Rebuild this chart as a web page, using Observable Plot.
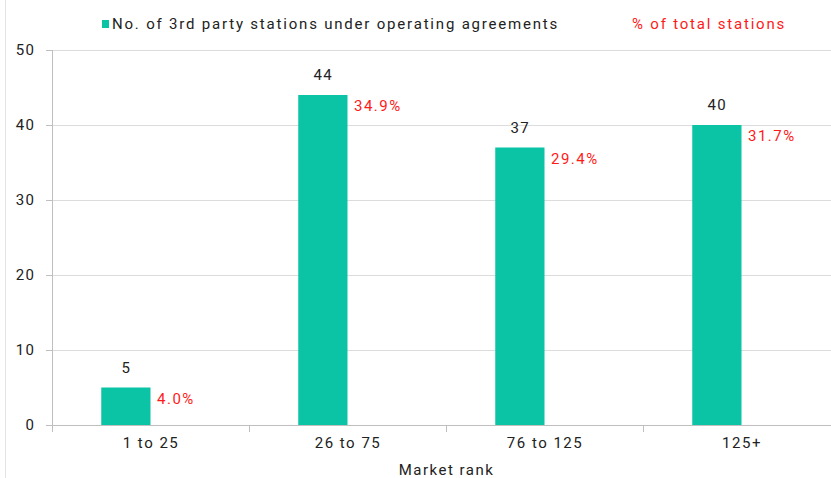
<!DOCTYPE html>
<html>
<head>
<meta charset="utf-8">
<script src="https://cdn.jsdelivr.net/npm/d3@7"></script>
<script src="https://cdn.jsdelivr.net/npm/@observablehq/plot@0.6"></script>
<style>
  html, body { margin: 0; padding: 0; background: #fff; overflow: hidden; }
  body { width: 831px; height: 478px; position: relative; font-family: Roboto, "Noto Sans", sans-serif; }
  #frameline { position: absolute; left: 5px; top: 0; width: 0; height: 478px; border-left: 1px solid #e3e3e3; }
  #legend { position: relative; height: 40px; font-size: 15px; letter-spacing: 1.8px; color: #222; }
  #legend .sw { position: absolute; left: 102px; top: 20px; width: 7px; height: 8px; background: #0bc4a6; }
  #legend .t1 { position: absolute; left: 112px; top: 14px; line-height: 20px; white-space: nowrap; }
  #legend .t2 { position: absolute; left: 632px; top: 14px; line-height: 20px; color: #ff1a1a; white-space: nowrap; }
  #chart { width: 840px; height: 438px; overflow: visible; }
  #chart svg { max-width: none !important; display: block; }
  #chart svg text { letter-spacing: 1.5px; }
</style>
</head>
<body>
<div id="frameline"></div>
<div id="legend">
  <span class="sw"></span><span class="t1">No. of 3rd party stations under operating agreements</span>
  <span class="t2">% of total stations</span>
</div>
<div id="chart"></div>
<script>
const categories = ["1 to 25", "26 to 75", "76 to 125", "125+"];
const stations = [5, 44, 37, 40];
const sharePct = [4.0, 34.9, 29.4, 31.7];
const yTicks = [0, 10, 20, 30, 40, 50];
const xTitle = "Market rank";

const data = categories.map((c, i) => ({cat: c, count: stations[i], pct: sharePct[i]}));

const barColor = "#0bc4a6";
const red = "#ff1a1a";
const ink = "#222";
const axisGray = "#bfbfbf";
const gridGray = "#dcdcdc";

const width = 840, height = 438;
const mTop = 10, mBottom = 53, mLeft = 52;
const band = (width - mLeft) / categories.length;
const barW = band / 4;
const frameH = height - mTop - mBottom;

const chart = Plot.plot({
  width, height,
  marginTop: mTop, marginBottom: mBottom, marginLeft: mLeft, marginRight: 0,
  style: {fontFamily: "Roboto, 'Noto Sans', sans-serif", fontSize: "15px", color: ink, background: "#fff", overflow: "visible", maxWidth: "none"},
  x: {domain: categories, padding: 0, axis: null},
  y: {domain: [0, 50], axis: null},
  marks: [
    Plot.gridY(yTicks, {stroke: gridGray, strokeOpacity: 1}),
    Plot.barY(data, {x: "cat", y: "count", fill: barColor, insetLeft: band / 2 - barW, insetRight: band / 2}),
    Plot.ruleY([0], {stroke: axisGray}),
    // y-axis line and category boundary ticks
    Plot.ruleX([categories[0]], {x: d => d, dx: -band / 2, stroke: axisGray, insetBottom: -7}),
    Plot.ruleX(categories.slice(1), {x: d => d, dx: -band / 2, stroke: axisGray, insetTop: frameH, insetBottom: -7}),
    Plot.axisY({ticks: yTicks, tickSize: 6, tickPadding: 11, stroke: axisGray, color: ink, fontSize: 15, label: null}),
    Plot.axisX({tickSize: 0, tickPadding: 12, color: ink, fontSize: 15, label: null}),
    Plot.text([xTitle], {frameAnchor: "bottom", dy: 49, fill: ink, fontSize: 15}),
    Plot.text(data, {x: "cat", y: "count", text: d => String(d.count), dx: -barW / 2, dy: -20, fill: ink, fontSize: 15}),
    Plot.text(data, {x: "cat", y: "count", text: d => d.pct.toFixed(1) + "%", dx: 6, dy: 11, textAnchor: "start", fill: red, fontSize: 15})
  ]
});
document.getElementById("chart").appendChild(chart);
</script>
</body>
</html>
